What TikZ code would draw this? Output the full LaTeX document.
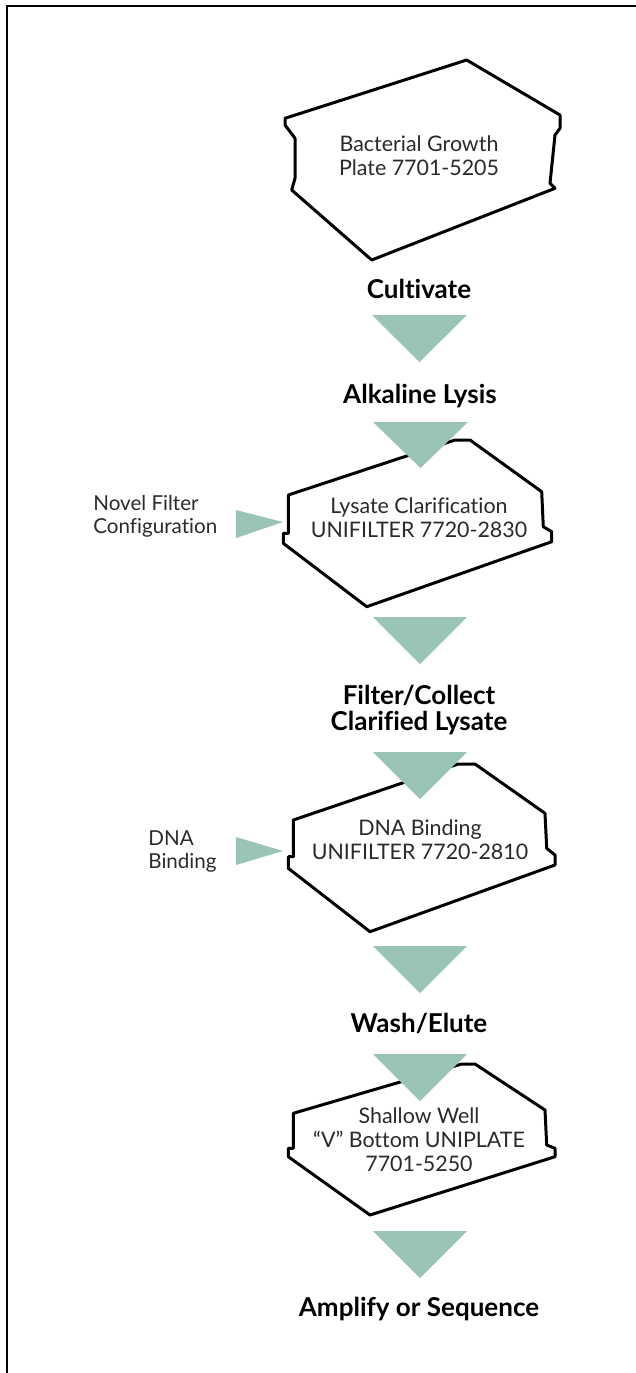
\documentclass[tikz,border=0pt]{standalone}
\usepackage{fontspec}
\setmainfont{Lato}[Ligatures=NoCommon]
\definecolor{teal}{HTML}{9BC4B8}
\definecolor{txt}{HTML}{2A2A2A}
\begin{document}
\begin{tikzpicture}[x=0.5pt,y=-0.5pt,
  plate/.style={draw=black,line width=1.5pt,fill=white,line join=round},
  tri/.style={fill=teal},
  steplbl/.style={font=\fontsize{13}{13}\selectfont\bfseries,text=black,anchor=base,inner sep=0pt,align=center},
  platelbl/.style={font=\fontsize{10.7}{12}\selectfont,text=txt,anchor=base,inner sep=0pt,align=center},
  sidelbl/.style={font=\fontsize{10.3}{11.3}\selectfont,text=txt,anchor=base west,inner sep=0pt,align=left}]
\useasboundingbox (0,0) rectangle (636,1373);
% frame
\draw[line width=0.7pt] (636,6) -- (7,6) -- (7,1373);
% plates
\draw[plate] (466.7,60) -- (560,115) -- (560,128.3) -- (555,135) -- (550,183.3) -- (555,188.3)
  -- (371.7,260) -- (291.7,190) -- (295,178.3) -- (295,138.3) -- (285,125) -- (285,118.3) -- cycle;
\draw[plate] (455,440) -- (470,440) -- (541.7,491.7) -- (543.3,526.7) -- (551.7,531.7) -- (551.7,541.7)
  -- (366.7,606.7) -- (283.3,543.3) -- (283.3,533.3) -- (288.3,533.3) -- (288.3,495) -- cycle;
\draw[plate] (458.3,764) -- (475,764) -- (545,813.3) -- (546.7,848.3) -- (555,855) -- (555,865)
  -- (370,931.7) -- (288.3,868.3) -- (288.3,856.7) -- (293.3,856.7) -- (293.3,820) -- cycle;
\draw[plate] (461.7,1064) -- (475,1064) -- (545,1110) -- (546.7,1145) -- (555,1148.3) -- (555,1156.7)
  -- (370,1215) -- (288.3,1156.7) -- (288.3,1148.3) -- (293.3,1148.3) -- (293.3,1113.3) -- cycle;
% plate texts (anchor = baseline of last line)
\node[platelbl] (p1) at (419,175) {Bacterial Growth\\Plate 7701-5205};
\node[platelbl] (p2) at (419,537) {Lysate Clarification\\UNIFILTER 7720-2830};
\node[platelbl] (p3) at (420,859) {DNA Binding\\UNIFILTER 7720-2810};
\node[platelbl] (p4) at (419,1171) {Shallow Well\\“V” Bottom UNIPLATE\\7701-5250};
% step labels
\node[steplbl] (s1) at (419,298) {Cultivate};
\node[steplbl] (s2) at (420,403) {Alkaline Lysis};
\node[steplbl] (s3) at (419,730) {Filter/Collect\\Clarified Lysate};
\node[steplbl] (s4) at (419,1032) {Wash/Elute};
\node[steplbl] (s5) at (419,1316) {Amplify or Sequence};
% side labels
\node[sidelbl] (l1) at (93,533) {Novel Filter\\Configuration};
\node[sidelbl] (l2) at (148,868) {DNA\\Binding};
% triangles
\fill[tri] (372,315) -- (467,315) -- (419.5,362) -- cycle;
\fill[tri] (373,422) -- (468,422) -- (420.5,468) -- cycle;
\fill[tri] (373,617) -- (467,617) -- (420,664) -- cycle;
\fill[tri] (373,752) -- (467,752) -- (420,799) -- cycle;
\fill[tri] (373,946) -- (467,946) -- (420,993) -- cycle;
\fill[tri] (373,1054) -- (467,1054) -- (420,1101) -- cycle;
\fill[tri] (373,1231) -- (467,1231) -- (420,1278) -- cycle;
\fill[tri] (236,510) -- (283,522) -- (236,538) -- cycle;
\fill[tri] (236,837) -- (283,851) -- (236,865) -- cycle;
\end{tikzpicture}
\end{document}
